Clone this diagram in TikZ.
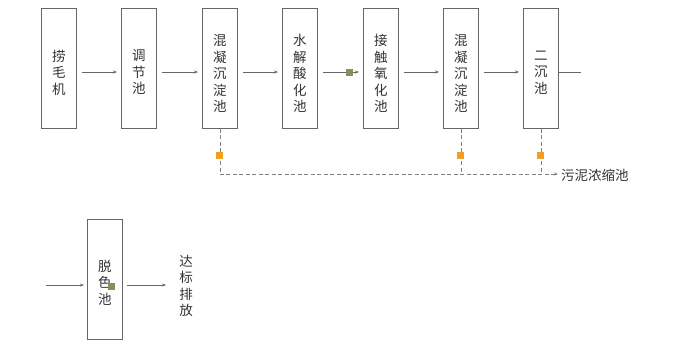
\documentclass[tikz,border=0pt]{standalone}
\usepackage{fontspec}
\setmainfont{Noto Sans CJK SC}
\usetikzlibrary{arrows.meta}
\definecolor{boxline}{HTML}{666666}
\definecolor{txt}{HTML}{333333}
\definecolor{olivesq}{HTML}{8E8C5C}
\definecolor{orangesq}{HTML}{F0A020}
\begin{document}
\begin{tikzpicture}[x=1pt,y=-1pt,
  tank/.style={draw=boxline,line width=0.8pt,minimum width=35pt,minimum height=120pt,inner sep=0pt,anchor=north west},
  flow/.style={draw=boxline,line width=0.7pt,-{Stealth[length=4pt,width=3pt]}},
  sludge/.style={draw=gray,line width=0.7pt,dash pattern=on 4pt off 2.5pt},
  osq/.style={fill=orangesq,draw=none,minimum size=7pt,inner sep=0pt},
  gsq/.style={fill=olivesq,draw=none,minimum size=7pt,inner sep=0pt},
  lbl/.style={text=txt,font=\fontsize{13.5}{16.5}\selectfont,align=center,inner sep=0pt}]
\useasboundingbox (0,0) rectangle (687,360);
\node[tank] (b1) at (41,8) {};
\node[tank] (b2) at (121,8) {};
\node[tank] (b3) at (202,8) {};
\node[tank] (b4) at (282,8) {};
\node[tank] (b5) at (363,8) {};
\node[tank] (b6) at (443,8) {};
\node[tank] (b7) at (523,8) {};
\node[lbl] (t1) at ([yshift=-4pt]b1.center) {捞\\毛\\机};
\node[lbl] (t2) at ([yshift=-4pt]b2.center) {调\\节\\池};
\node[lbl] (t3) at ([yshift=-5pt]b3.center) {混\\凝\\沉\\淀\\池};
\node[lbl] (t4) at ([yshift=-5pt]b4.center) {水\\解\\酸\\化\\池};
\node[lbl] (t5) at ([yshift=-5pt]b5.center) {接\\触\\氧\\化\\池};
\node[lbl] (t6) at ([yshift=-5pt]b6.center) {混\\凝\\沉\\淀\\池};
\node[lbl] (t7) at ([yshift=-4pt]b7.center) {二\\沉\\池};
\coordinate (out7) at (581,72);
\draw[flow] ([xshift=5pt]b1.east |- 0,72) -- ([xshift=-4pt]b2.west |- 0,72);
\draw[flow] ([xshift=5pt]b2.east |- 0,72) -- ([xshift=-4pt]b3.west |- 0,72);
\draw[flow] ([xshift=5pt]b3.east |- 0,72) -- ([xshift=-4pt]b4.west |- 0,72);
\draw[flow] ([xshift=5pt]b4.east |- 0,72) -- ([xshift=-4pt]b5.west |- 0,72);
\draw[flow] ([xshift=5pt]b5.east |- 0,72) -- ([xshift=-4pt]b6.west |- 0,72);
\draw[flow] ([xshift=5pt]b6.east |- 0,72) -- ([xshift=-4pt]b7.west |- 0,72);
\draw[draw=boxline,line width=0.7pt] (b7.east |- out7) -- (out7);
\node[gsq] (g1) at (349,72) {};
% sludge
\coordinate (c3) at (b3.south |- 0,174);
\coordinate (c6) at (b6.south |- 0,174);
\coordinate (c7) at (b7.south |- 0,174);
\node[lbl,anchor=west] (sl) at (561,175) {污泥浓缩池};
\draw[sludge] (b3.south) -- (c3);
\draw[sludge] (b6.south) -- (c6);
\draw[sludge] (b7.south) -- (c7);
\draw[sludge,-{Stealth[length=4pt,width=3pt]}] (c3) -- ([xshift=-3pt]sl.west |- c3);
\node[osq] (o3) at (b3.south |- 0,155) {};
\node[osq] (o6) at (b6.south |- 0,155) {};
\node[osq] (o7) at (b7.south |- 0,155) {};
% bottom
\node[tank] (d) at (87,219) {};
\node[lbl] (td) at ([yshift=-3pt]d.center) {脱\\色\\池};
\coordinate (din) at (46,285);
\node[lbl] (dis) at (186,286) {达\\标\\排\\放};
\draw[flow] (din) -- ([xshift=-3pt]d.west |- din);
\draw[flow] ([xshift=4pt]d.east |- din) -- ([xshift=-13pt]dis.west |- din);
\node[gsq] (g2) at (111,286) {};
\end{tikzpicture}
\end{document}
